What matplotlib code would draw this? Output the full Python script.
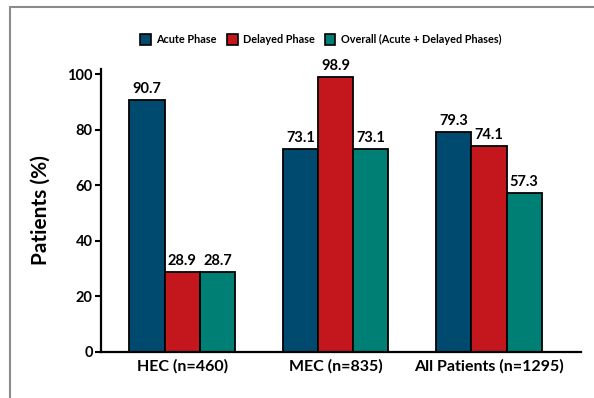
import matplotlib
matplotlib.use("Agg")
import matplotlib.pyplot as plt
import numpy as np
from matplotlib.patches import Rectangle

categories = ["HEC (n=460)", "MEC (n=835)", "All Patients (n=1295)"]
series_names = ["Acute Phase", "Delayed Phase", "Overall (Acute + Delayed Phases)"]
acute = [90.7, 73.1, 79.3]
delayed = [28.9, 98.9, 74.1]
overall = [28.7, 73.1, 57.3]
colors = ["#004a6f", "#c3161d", "#008074"]

plt.rcParams['font.family'] = ['Lato', 'DejaVu Sans']

fig = plt.figure(figsize=(5.94, 3.98), dpi=100)
ax = fig.add_axes([0.170, 0.1156, 0.808, 0.712])

x = np.arange(len(categories))
w = 0.23
for i, (vals, c, name) in enumerate(zip([acute, delayed, overall], colors, series_names)):
    bars = ax.bar(x + (i - 1) * w, vals, w, color=c, edgecolor="black", linewidth=1.3, label=name)
    for b, v in zip(bars, vals):
        ax.text(b.get_x() + b.get_width() / 2, v + 1.5, f"{v:.1f}", ha="center", va="bottom",
                fontsize=10.5, fontweight="bold")

ax.set_xlim(-0.53, 2.6)
ax.set_ylim(0, 102)
ax.spines["top"].set_visible(False)
ax.spines["right"].set_visible(False)
ax.spines["left"].set_linewidth(1.6)
ax.spines["bottom"].set_linewidth(1.6)
ax.set_yticks(np.arange(0, 101, 20))
ax.tick_params(axis="y", length=4, width=1.5, labelsize=10.5, pad=2)
ax.tick_params(axis="x", length=0, labelsize=11.5, pad=5)
for lab in ax.get_yticklabels() + ax.get_xticklabels():
    lab.set_fontweight("bold")
ax.set_xticks(x)
ax.set_xticklabels(categories)
ax.set_ylabel("Patients (%)", fontsize=15, fontweight="bold", labelpad=12)

leg = fig.legend(loc="center", bbox_to_anchor=(0.54, 0.9), ncol=3, frameon=False,
                 prop={"weight": "bold", "size": 7.8}, handlelength=1.0, handleheight=1.1,
                 handletextpad=0.5, columnspacing=0.9)
for h in leg.legend_handles:
    h.set_linewidth(1.2)

fig.patches.append(Rectangle((10 / 594, -0.1), 1.2, 1 - 7 / 398 + 0.1, transform=fig.transFigure,
                             fill=False, edgecolor="#8c8c8c", linewidth=1.5))

fig.savefig("out.png", dpi=100)
